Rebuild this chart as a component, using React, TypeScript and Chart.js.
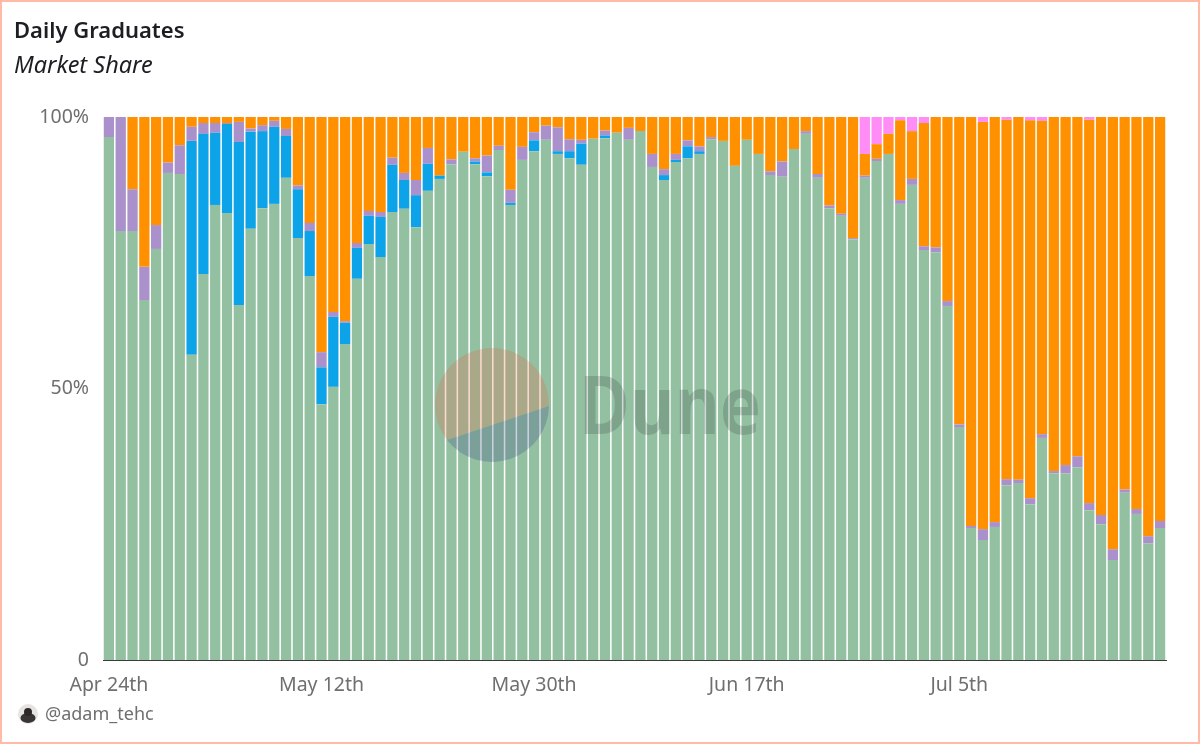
import { useEffect, useRef } from 'react'
import Chart from 'chart.js/auto'

const days = [
  'Apr 24th', 'Apr 25th', 'Apr 26th', 'Apr 27th', 'Apr 28th', 'Apr 29th', 'Apr 30th',
  'May 1st', 'May 2nd', 'May 3rd', 'May 4th', 'May 5th', 'May 6th', 'May 7th', 'May 8th', 'May 9th', 'May 10th',
  'May 11th', 'May 12th', 'May 13th', 'May 14th', 'May 15th', 'May 16th', 'May 17th', 'May 18th', 'May 19th', 'May 20th',
  'May 21st', 'May 22nd', 'May 23rd', 'May 24th', 'May 25th', 'May 26th', 'May 27th', 'May 28th', 'May 29th', 'May 30th', 'May 31st',
  'Jun 1st', 'Jun 2nd', 'Jun 3rd', 'Jun 4th', 'Jun 5th', 'Jun 6th', 'Jun 7th', 'Jun 8th', 'Jun 9th', 'Jun 10th',
  'Jun 11th', 'Jun 12th', 'Jun 13th', 'Jun 14th', 'Jun 15th', 'Jun 16th', 'Jun 17th', 'Jun 18th', 'Jun 19th', 'Jun 20th',
  'Jun 21st', 'Jun 22nd', 'Jun 23rd', 'Jun 24th', 'Jun 25th', 'Jun 26th', 'Jun 27th', 'Jun 28th', 'Jun 29th', 'Jun 30th',
  'Jul 1st', 'Jul 2nd', 'Jul 3rd', 'Jul 4th', 'Jul 5th', 'Jul 6th', 'Jul 7th', 'Jul 8th', 'Jul 9th', 'Jul 10th',
  'Jul 11th', 'Jul 12th', 'Jul 13th', 'Jul 14th', 'Jul 15th', 'Jul 16th', 'Jul 17th', 'Jul 18th', 'Jul 19th', 'Jul 20th',
  'Jul 21st', 'Jul 22nd',
]

const shownDays = ['Apr 24th', 'May 12th', 'May 30th', 'Jun 17th', 'Jul 5th']

const green = [
  96.3, 79.0, 79.0, 66.3, 75.7, 89.7, 89.5, 56.2, 71.1, 83.8,
  82.3, 65.4, 79.4, 83.2, 84.0, 88.8, 77.7, 70.7, 47.1, 50.3,
  58.2, 70.2, 76.6, 74.2, 82.5, 83.1, 79.7, 86.4, 88.6, 91.3,
  93.6, 91.3, 89.1, 93.9, 83.8, 92.1, 93.7, 95.8, 93.2, 92.4,
  91.2, 96.0, 96.1, 97.1, 95.8, 97.4, 90.8, 88.4, 91.7, 92.4,
  93.2, 95.9, 95.6, 91.0, 95.8, 93.2, 89.3, 89.0, 94.1, 96.9,
  88.8, 83.2, 81.8, 77.5, 88.8, 91.9, 93.2, 84.0, 87.5, 75.5,
  75.1, 65.2, 42.9, 24.3, 22.1, 24.5, 32.2, 32.6, 28.7, 40.9,
  34.4, 34.4, 35.5, 27.6, 25.0, 18.4, 30.8, 26.9, 21.5, 24.3,
]

const blue = [
  0, 0, 0, 0, 0, 0, 0, 39.4, 25.8, 13.3,
  16.4, 30.0, 17.9, 14.2, 14.2, 7.7, 9.0, 8.3, 6.8, 12.9,
  3.9, 5.7, 5.2, 7.4, 8.7, 5.3, 5.9, 5.0, 0.6, 0,
  0, 0.5, 0.7, 0, 0.4, 0, 2.0, 0, 0.5, 1.3,
  3.9, 0, 0.5, 0, 0, 0, 0, 0.9, 0.4, 2.2,
  0.5, 0, 0, 0, 0, 0, 0, 0, 0, 0,
  0, 0, 0, 0, 0, 0, 0, 0, 0, 0,
  0, 0, 0, 0, 0, 0, 0, 0, 0, 0,
  0, 0, 0, 0, 0, 0, 0, 0, 0, 0,
]

const purple = [
  3.7, 21.0, 7.7, 6.1, 4.4, 1.9, 5.3, 2.6, 2.0, 1.8,
  0.2, 3.7, 0.6, 1.1, 1.1, 1.3, 0.7, 1.5, 2.8, 0.9,
  0.3, 0.9, 0.9, 0.9, 1.3, 1.3, 2.8, 2.9, 0, 0.9,
  0, 0.6, 3.1, 0.8, 2.4, 2.4, 1.5, 2.6, 4.4, 2.2,
  0.7, 0, 0.9, 0, 2.2, 0, 2.4, 1.1, 1.1, 1.1,
  0.9, 0.4, 0, 0, 0, 0, 0.7, 2.8, 0, 0.5,
  0.7, 0.5, 0.4, 0.2, 0.4, 0.4, 0, 0.7, 1.1, 0.7,
  0.9, 0.9, 0.5, 0.4, 2.0, 0.9, 1.1, 0.6, 1.1, 0.7,
  0.4, 1.5, 2.0, 1.3, 1.7, 2.0, 0.6, 0.9, 1.3, 1.3,
]

const orange = [
  0, 0, 13.3, 27.6, 19.9, 8.4, 5.2, 1.8, 1.1, 1.1,
  1.1, 0.9, 2.1, 1.5, 0.7, 2.2, 12.6, 19.5, 43.3, 35.9,
  37.6, 23.2, 17.3, 17.5, 7.5, 10.3, 11.6, 5.7, 10.8, 7.8,
  6.4, 7.6, 7.1, 5.3, 13.4, 5.5, 2.8, 1.6, 1.9, 4.1,
  4.2, 4.0, 2.5, 2.9, 2.0, 2.6, 6.8, 9.6, 6.8, 4.3,
  5.4, 3.7, 4.4, 9.0, 4.2, 6.8, 10.0, 8.2, 5.9, 2.6,
  10.5, 16.3, 17.8, 22.3, 4.0, 2.7, 3.7, 14.7, 8.8, 22.7,
  24.0, 33.9, 56.6, 75.3, 75.0, 74.6, 66.2, 66.8, 69.6, 57.7,
  65.2, 64.1, 62.5, 70.6, 73.3, 79.6, 68.6, 72.2, 77.2, 74.4,
]

const pink = [
  0, 0, 0, 0, 0, 0, 0, 0, 0, 0,
  0, 0, 0, 0, 0, 0, 0, 0, 0, 0,
  0, 0, 0, 0, 0, 0, 0, 0, 0, 0,
  0, 0, 0, 0, 0, 0, 0, 0, 0, 0,
  0, 0, 0, 0, 0, 0, 0, 0, 0, 0,
  0, 0, 0, 0, 0, 0, 0, 0, 0, 0,
  0, 0, 0, 0, 6.8, 5.0, 3.1, 0.6, 2.6, 1.1,
  0, 0, 0, 0, 0.9, 0, 0.5, 0, 0.6, 0.7,
  0, 0, 0, 0.5, 0, 0, 0, 0, 0, 0,
]

const FONT = '"Noto Sans", sans-serif'

const App = () => {
  const chartRef = useRef<HTMLCanvasElement>(null)

  useEffect(() => {
    if (!chartRef.current) return

    const bar = { barPercentage: 0.87, categoryPercentage: 1, borderWidth: 0 }

    const chart = new Chart(chartRef.current, {
      type: 'bar',
      data: {
        labels: days,
        datasets: [
          { label: 'Green', data: green, backgroundColor: '#93C0A1', ...bar },
          { label: 'Blue', data: blue, backgroundColor: '#0CA3E8', ...bar },
          { label: 'Purple', data: purple, backgroundColor: '#AB91CB', ...bar },
          { label: 'Orange', data: orange, backgroundColor: '#FF9000', ...bar },
          { label: 'Pink', data: pink, backgroundColor: '#FF8DF5', ...bar },
        ],
      },
      options: {
        responsive: false,
        animation: false,
        layout: { padding: { top: 117, right: 34, left: 0, bottom: 0 } },
        plugins: {
          legend: { display: false },
          tooltip: { enabled: false },
        },
        scales: {
          x: {
            stacked: true,
            afterFit: (scale: any) => { scale.height = 84 },
            grid: { display: false },
            border: { display: true, color: '#3a3a3a', width: 1 },
            ticks: {
              autoSkip: false,
              maxRotation: 0,
              padding: 6,
              color: '#6f6f6f',
              font: { family: FONT, size: 19.5 },
              callback: (_: any, i: number) => (shownDays.includes(days[i]) ? days[i] : ''),
            },
          },
          y: {
            stacked: true,
            min: 0,
            max: 100,
            afterFit: (scale: any) => { scale.width = 103 },
            grid: { display: false },
            border: { display: false },
            ticks: {
              stepSize: 50,
              padding: 6,
              color: '#6f6f6f',
              font: { family: FONT, size: 19.5 },
              callback: (v: any) => (v === 0 ? '0' : `${v}%`),
            },
          },
        },
      },
    })

    return () => {
      chart.destroy()
    }
  }, [])

  return (
    <div style={{ position: 'fixed', left: 0, top: 0, width: 1200, height: 744, background: '#fff', fontFamily: FONT, overflow: 'hidden' }}>
      <canvas ref={chartRef} width={1200} height={744} style={{ position: 'absolute', left: 0, top: 0 }} />

      <svg width={1200} height={744} style={{ position: 'absolute', left: 0, top: 0, pointerEvents: 'none' }}>
        <path d="M447 440 A57 57 0 1 1 549 406 Z" fill="#F4603E" opacity={0.24} />
        <path d="M447 440 L549 406 A57 57 0 0 1 447 440 Z" fill="#2C3C80" opacity={0.24} />
        <text x={579} y={434} fontFamily={FONT} fontWeight={700} fontSize={80} textLength={182} lengthAdjust="spacingAndGlyphs" fill="#2a3a34" opacity={0.2}>Dune</text>
      </svg>

      <div style={{ position: 'absolute', left: 14, top: 14, fontSize: 22, fontWeight: 600, color: '#1d1d24' }}>Daily Graduates</div>
      <div style={{ position: 'absolute', left: 14, top: 48, fontSize: 23.5, fontStyle: 'italic', color: '#1d1d24' }}>Market Share</div>

      <svg width={22} height={22} style={{ position: 'absolute', left: 17, top: 703 }}>
        <circle cx={11} cy={11} r={10} fill="#e6e3e1" />
        <ellipse cx={11} cy={15} rx={7.5} ry={5} fill="#3a3535" />
        <circle cx={11} cy={9} r={4} fill="#2c2828" />
      </svg>
      <div style={{ position: 'absolute', left: 45, top: 701, fontSize: 18, color: '#6f6f6f' }}>@adam_tehc</div>

      <div style={{ position: 'absolute', inset: 0, border: '2px solid #FFBBA8', boxSizing: 'border-box', pointerEvents: 'none' }} />
    </div>
  )
}

export default App
